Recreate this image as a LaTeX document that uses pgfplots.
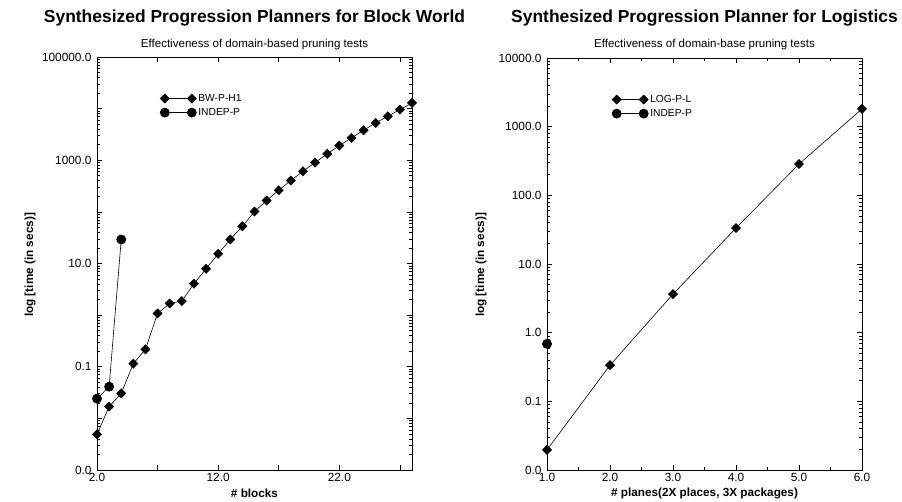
\documentclass[border=0pt]{standalone}
\usepackage{fontspec}
\setmainfont{Liberation Sans}
\usepackage{pgfplots}
\pgfplotsset{compat=1.18}
\tikzset{
  dia/.style={black, line width=0.6bp, mark=square*, mark size=3.2bp, mark options={solid, rotate=45}},
  circ/.style={black, line width=0.6bp, mark=*, mark size=4.6bp, mark options={solid}},
}
\pgfplotsset{
  legend image code/.code={\draw[#1] plot coordinates {(0bp,0bp) (27bp,0bp)};},
}
\begin{document}
\begin{tikzpicture}[x=1bp,y=1bp]
\useasboundingbox (0,0) rectangle (902,502);
% Left panel
\node[font=\fontsize{17.5}{20}\selectfont\bfseries] at (254.5,484) {Synthesized Progression Planners for Block World};
\node[font=\fontsize{11.6}{13}\selectfont] at (254.5,457) {Effectiveness of domain-based pruning tests};
\node[font=\fontsize{11.8}{13}\selectfont\bfseries, rotate=90] at (30,237) {log [time (in secs)]};
\node[font=\fontsize{11.8}{13}\selectfont\bfseries] at (254.5,9) {\# blocks};
\begin{axis}[ymode=log, scale only axis, width=315bp, height=413bp, anchor=south west,
  at={(97bp,32bp)},
  axis line style={line width=0.8bp},
  tick align=inside, major tick length=5bp, minor tick length=3bp,
  every tick/.style={black, line width=0.6bp},
  tick label style={font=\fontsize{11.9}{13}\selectfont},
  yticklabel style={xshift=-2bp},
  clip=false,
  legend style={draw=none, fill=none, font=\fontsize{10.3}{12}\selectfont, anchor=north west, row sep=1.5bp, inner sep=0pt, at={(0.2,0.915)}},
  legend cell align=left,
  xmin=2, xmax=28, ymin=1e-3, ymax=1e5,
  xtick={2,7,12,17,22,27}, xticklabels={2.0,,12.0,,22.0,},
  ytick={1e-3,1e-2,1e-1,1,10,100,1000,1e4,1e5},
  yticklabels={0.0,,0.1,,10.0,,1000.0,,100000.0}]
\addplot[dia] coordinates {
(2,0.0049) (3,0.0169) (4,0.0305) (5,0.115) (6,0.217) (7,1.08) (8,1.68) (9,1.87)
(10,4.06) (11,7.9) (12,15.4) (13,29.2) (14,52.7) (15,101.6) (16,166) (17,262)
(18,404) (19,612) (20,902) (21,1328) (22,1923) (23,2711) (24,3802) (25,5287)
(26,7100) (27,9570) (28,12900)};
\addlegendentry{BW-P-H1}
\addplot[circ] coordinates {(2,0.0241) (3,0.0411) (4,29.2)};
\addlegendentry{INDEP-P}
\end{axis}
% Right panel
\node[font=\fontsize{17.5}{20}\selectfont\bfseries] at (704.5,484) {Synthesized Progression Planner for Logistics};
\node[font=\fontsize{11.6}{13}\selectfont] at (704.5,457) {Effectiveness of domain-base pruning tests};
\node[font=\fontsize{11.8}{13}\selectfont\bfseries, rotate=90] at (481,237) {log [time (in secs)]};
\node[font=\fontsize{11.8}{13}\selectfont\bfseries] at (704.5,9) {\# planes(2X places, 3X packages)};
\begin{axis}[ymode=log, scale only axis, width=315bp, height=412bp, anchor=south west,
  at={(547bp,32bp)},
  axis line style={line width=0.8bp},
  tick align=inside, major tick length=5bp, minor tick length=3bp,
  every tick/.style={black, line width=0.6bp},
  tick label style={font=\fontsize{11.9}{13}\selectfont},
  yticklabel style={xshift=-2bp},
  clip=false,
  legend style={draw=none, fill=none, font=\fontsize{10.3}{12}\selectfont, anchor=north west, row sep=1.5bp, inner sep=0pt, at={(0.206,0.915)}},
  legend cell align=left,
  xmin=1, xmax=6, ymin=1e-2, ymax=1e4,
  xtick={1,2,3,4,5,6}, xticklabels={1.0,2.0,3.0,4.0,5.0,6.0}, minor x tick num=1,
  ytick={1e-2,1e-1,1,10,100,1000,1e4},
  yticklabels={0.0,0.1,1.0,10.0,100.0,1000.0,10000.0}]
\addplot[dia] coordinates {(1,0.0196) (2,0.336) (3,3.64) (4,33.4) (5,286) (6,1812)};
\addlegendentry{LOG-P-L}
\addplot[circ] coordinates {(1,0.687)};
\addlegendentry{INDEP-P}
\end{axis}
\end{tikzpicture}
\end{document}
